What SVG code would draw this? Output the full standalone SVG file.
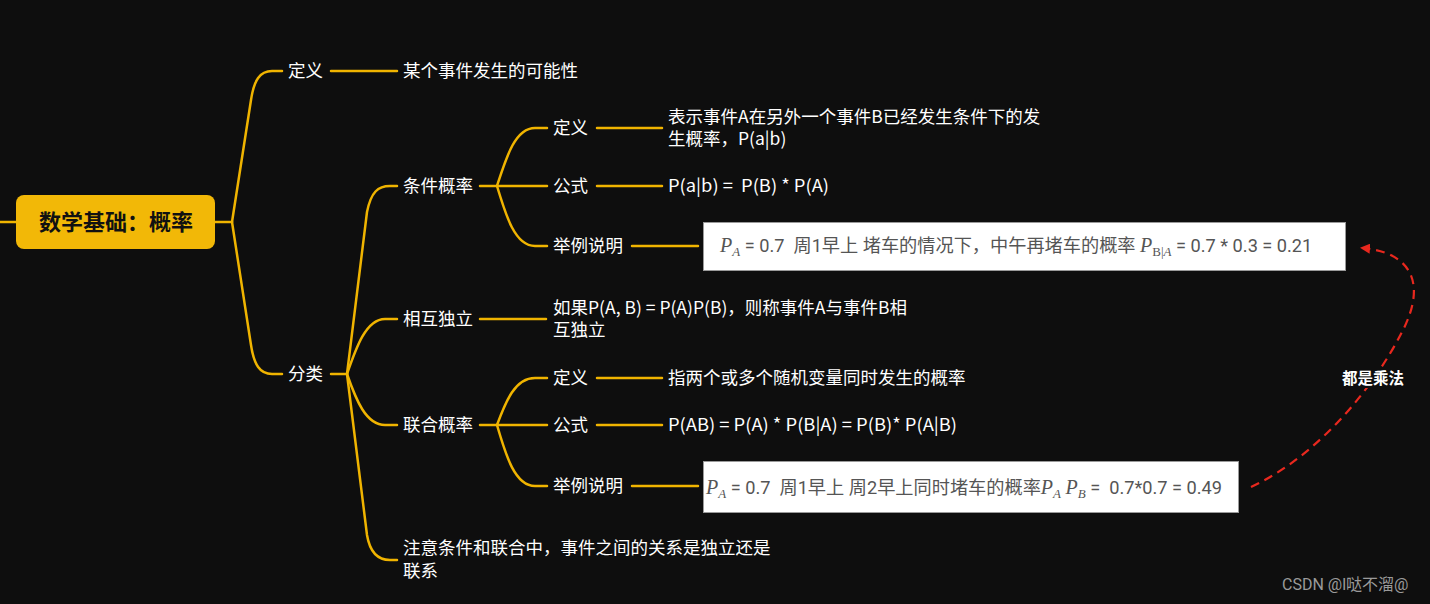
<svg xmlns="http://www.w3.org/2000/svg" width="1430" height="604" viewBox="0 0 1430 604">
<defs>
<style>
.t{font-family:"Noto Sans CJK SC","Noto Sans",sans-serif;font-size:17.5px;fill:#ffffff;white-space:pre}
.c{fill:none;stroke:#f0b400;stroke-width:2.5;stroke-linecap:round}
.bx{font-family:Roboto,"Noto Sans CJK SC",sans-serif;font-size:18.2px;fill:#555555;white-space:pre}
.m{font-family:"Liberation Serif",serif;font-style:italic;font-size:20px}
.ms{font-family:"Liberation Serif",serif;font-style:italic;font-size:13px}
.su{font-family:"Liberation Serif",serif;font-size:13px}
.box{fill:#ffffff;stroke:#9a9a9a;stroke-width:1}
</style>
<marker id="ah" markerWidth="10" markerHeight="10" refX="8" refY="5" orient="auto" markerUnits="userSpaceOnUse">
<path d="M0,0 L10,5 L0,10 Z" fill="#e8281e"/>
</marker>
</defs>
<rect width="1430" height="604" fill="#0e0e0e"/>

<g id="connectors">
<path class="c" d="M0,222 H16"/>
<path class="c" d="M215,222 H232"/>
<path class="c" d="M232,222 L251,100 C254,80 260,71 272,71 H282"/>
<path class="c" d="M232,222 L251,345 C254,365 260,374 272,374 H282"/>
<path class="c" d="M331,71 H397"/>
<path class="c" d="M331,374 H347"/>
<path class="c" d="M347,374 L367,212 C371,192 378,186 390,186 H397"/>
<path class="c" d="M347,374 C356,348 366,319 385,319 H397"/>
<path class="c" d="M347,374 C356,400 366,425 385,425 H397"/>
<path class="c" d="M347,374 L367,535 C370,553 378,560 390,560 H397"/>
<path class="c" d="M480,186 H497"/>
<path class="c" d="M497,186 C506,158 515,128 535,128 H547"/>
<path class="c" d="M497,186 H547"/>
<path class="c" d="M497,186 C506,216 515,246 535,246 H547"/>
<path class="c" d="M597,128 H662"/>
<path class="c" d="M597,186 H662"/>
<path class="c" d="M632,246 H698"/>
<path class="c" d="M480,319 H546"/>
<path class="c" d="M480,425 H497"/>
<path class="c" d="M497,425 C506,401 515,378 535,378 H547"/>
<path class="c" d="M497,425 H547"/>
<path class="c" d="M497,425 C506,456 515,486 535,486 H547"/>
<path class="c" d="M597,378 H662"/>
<path class="c" d="M597,425 H662"/>
<path class="c" d="M632,486 H698"/>
<path d="M1251,487 C1320,455 1375,385 1402,332 C1428,282 1410,252 1362,248" fill="none" stroke="#e8281e" stroke-width="2.2" stroke-dasharray="9,6" marker-end="url(#ah)"/>
</g>

<g id="root">
<rect x="16" y="195" width="199" height="54" rx="8" fill="#f2b807"/>
<text x="116" y="230" text-anchor="middle" font-family="'Noto Sans CJK SC',sans-serif" font-size="22" font-weight="bold" fill="#111">数学基础：概率</text>
</g>

<g id="def"><text class="t" x="288" y="77">定义</text></g>
<g id="def-text"><text class="t" x="403" y="77">某个事件发生的可能性</text></g>
<g id="classify"><text class="t" x="288" y="380">分类</text></g>

<g id="cond"><text class="t" x="403" y="192">条件概率</text></g>
<g id="cond-def"><text class="t" x="553" y="134">定义</text></g>
<g id="cond-def-text"><text class="t" x="668" y="123">表示事件A在另外一个事件B已经发生条件下的发<tspan x="668" dy="22">生概率，P(a|b)</tspan></text></g>
<g id="cond-formula"><text class="t" x="553" y="192">公式</text></g>
<g id="cond-formula-text"><text class="t" x="668" y="192" textLength="161" lengthAdjust="spacingAndGlyphs">P(a|b) =  P(B) * P(A)</text></g>
<g id="cond-example"><text class="t" x="553" y="252">举例说明</text></g>
<g id="cond-example-box">
<rect class="box" x="703.5" y="222.5" width="642" height="48"/>
<text class="bx" x="720" y="252"><tspan class="m">P</tspan><tspan class="ms" dy="4">A</tspan><tspan dy="-4"> = 0.7  周1早上 堵车的情况下，中午再堵车的概率 </tspan><tspan class="m">P</tspan><tspan class="su" dy="4">B|</tspan><tspan class="ms">A</tspan><tspan dy="-4"> = 0.7 * 0.3 = 0.21</tspan></text>
</g>

<g id="indep"><text class="t" x="403" y="325">相互独立</text></g>
<g id="indep-text"><text class="t" x="553" y="314">如果P(A, B) = P(A)P(B)，则称事件A与事件B相<tspan x="553" dy="22">互独立</tspan></text></g>

<g id="joint"><text class="t" x="403" y="431">联合概率</text></g>
<g id="joint-def"><text class="t" x="553" y="384">定义</text></g>
<g id="joint-def-text"><text class="t" x="668" y="384">指两个或多个随机变量同时发生的概率</text></g>
<g id="joint-formula"><text class="t" x="553" y="431">公式</text></g>
<g id="joint-formula-text"><text class="t" x="668" y="431" textLength="289" lengthAdjust="spacingAndGlyphs">P(AB) = P(A) * P(B|A) = P(B)* P(A|B)</text></g>
<g id="joint-example"><text class="t" x="553" y="492">举例说明</text></g>
<g id="joint-example-box">
<rect class="box" x="703.5" y="461.5" width="535" height="51"/>
<text class="bx" x="706" y="494"><tspan class="m">P</tspan><tspan class="ms" dy="4">A</tspan><tspan dy="-4"> = 0.7  周1早上 周2早上同时堵车的概率</tspan><tspan class="m">P</tspan><tspan class="ms" dy="4">A</tspan><tspan dy="-4"> </tspan><tspan class="m">P</tspan><tspan class="ms" dy="4">B</tspan><tspan dy="-4"> =  0.7*0.7 = 0.49</tspan></text>
</g>

<g id="note"><text class="t" x="403" y="554">注意条件和联合中，事件之间的关系是独立还是<tspan x="403" dy="23">联系</tspan></text></g>

<g id="label">
<rect x="1338" y="368" width="72" height="20" fill="#0e0e0e"/>
<text x="1373" y="384" text-anchor="middle" font-family="'Noto Sans CJK SC',sans-serif" font-size="15.5" font-weight="bold" fill="#ffffff">都是乘法</text>
</g>

<g id="watermark"><text x="1282" y="590" font-family="Roboto,'Noto Sans CJK SC',sans-serif" font-size="16" fill="#9a9a9a">CSDN @l哒不溜@</text></g>
</svg>
